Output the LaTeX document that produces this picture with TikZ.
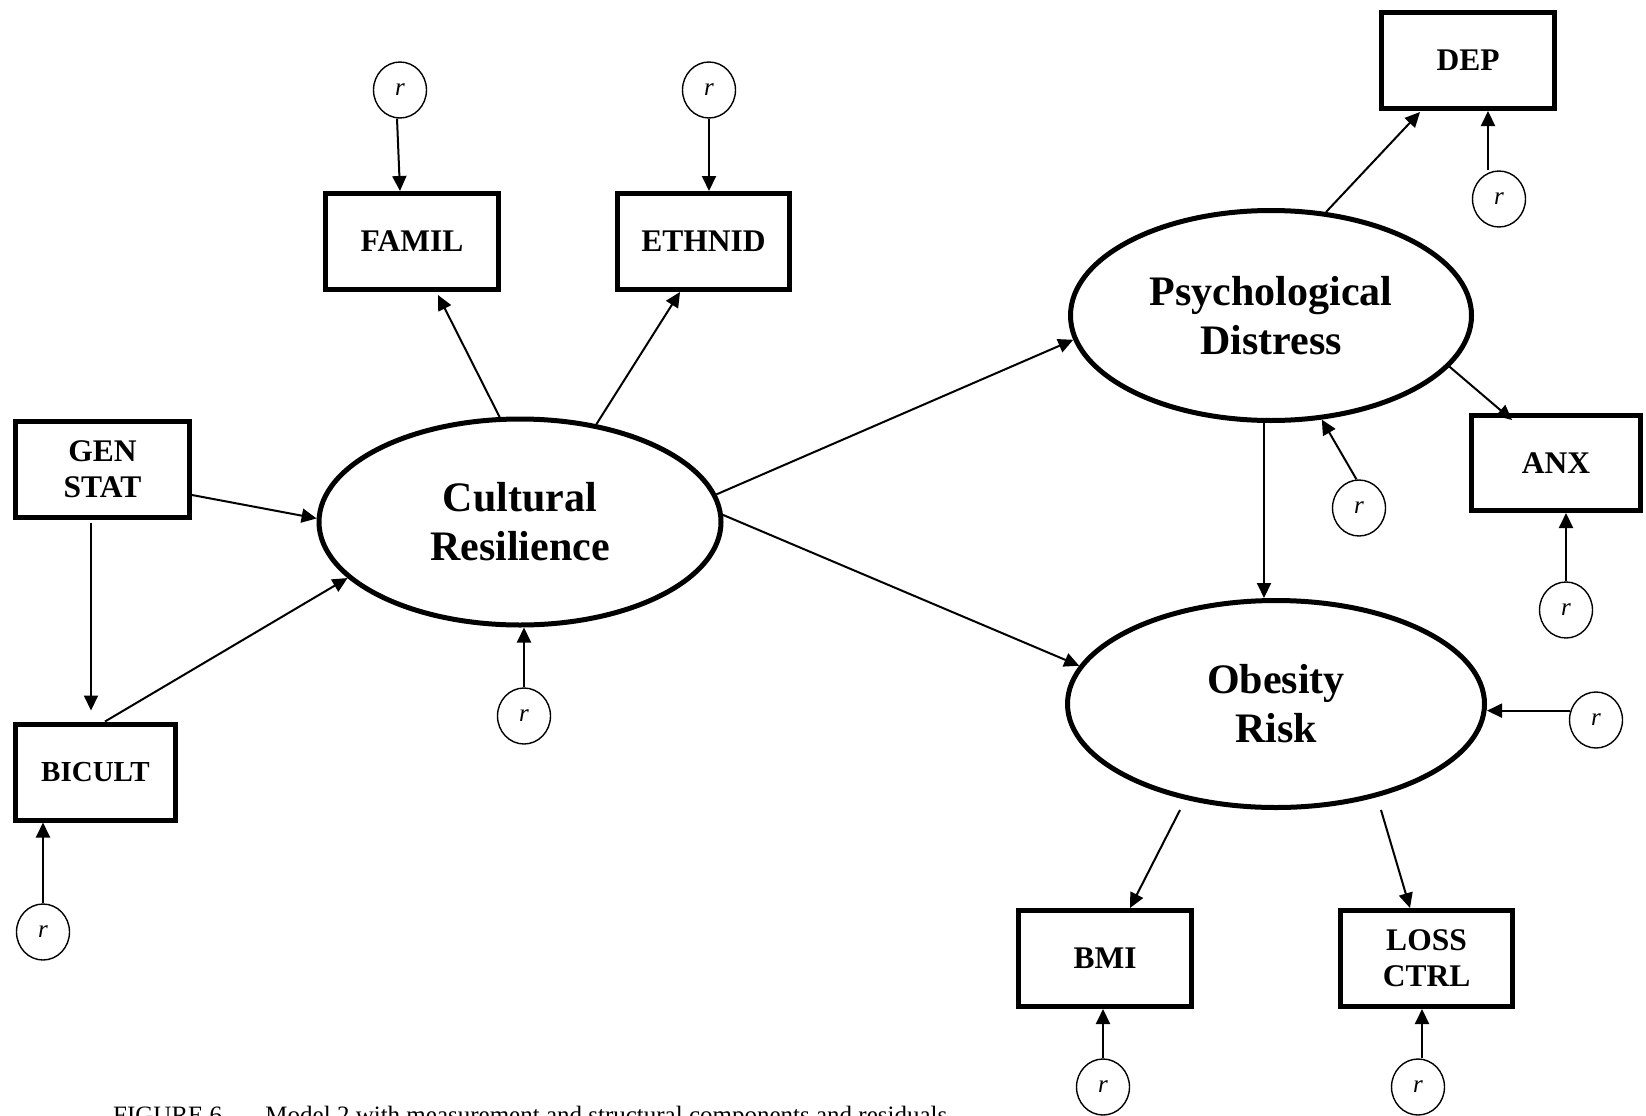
\documentclass[tikz,border=0pt]{standalone}
\usepackage{fontspec}
\setmainfont{Liberation Serif}
\usetikzlibrary{shapes.geometric,arrows.meta}
\begin{document}
\begin{tikzpicture}[x=1pt,y=-1pt,
  obs/.style={draw,rectangle,line width=5pt,inner sep=0pt,align=center,
    minimum width=173pt,minimum height=96pt,
    font=\bfseries\fontsize{31.5}{36}\selectfont},
  lat/.style={draw,ellipse,line width=5pt,inner sep=0pt,align=center,
    font=\bfseries\fontsize{42}{49}\selectfont},
  res/.style={draw,ellipse,line width=1.4pt,inner sep=0pt,
    minimum width=53pt,minimum height=56pt,
    font=\itshape\fontsize{25}{25}\selectfont},
  arr/.style={line width=2pt,-{Triangle[length=15pt,width=14pt]}},
]
\fill[white] (0,0) rectangle (1646,1116);
\useasboundingbox (0,0) rectangle (1646,1116);

% observed indicators
\node[obs,minimum width=174pt] (gen) at (102.5,469) {GEN\\STAT};
\node[obs,minimum width=160pt,font=\bfseries\fontsize{29}{34}\selectfont] (bic) at (95.5,772) {BICULT};
\node[obs] (famil) at (412,241.5) {FAMIL};
\node[obs,minimum width=172pt] (ethnid) at (703.5,241.5) {ETHNID};
\node[obs] (dep) at (1468,60.5) {DEP};
\node[obs,minimum width=169pt,minimum height=95pt] (anx) at (1556,463) {ANX};
\node[obs] (bmi) at (1105,958.5) {BMI};
\node[obs,minimum width=172pt] (loss) at (1426.5,958.5) {LOSS\\CTRL};

% latent constructs
\node[lat,minimum width=402pt,minimum height=206pt] (cr) at (520,522) {Cultural\\Resilience};
\node[lat,minimum width=401pt,minimum height=210pt] (pd) at (1271,315.5) {Psychological\\Distress};
\node[lat,minimum width=417pt,minimum height=207pt] (or) at (1276,704) {Obesity\\Risk};

% residual terms
\node[res] (rfam) at (400,90) {r};
\node[res] (reth) at (709,90) {r};
\node[res] (rcr) at (524,716) {r};
\node[res] (rbic) at (43,932) {r};
\node[res] (rdep) at (1499,199) {r};
\node[res] (rpd) at (1359,508) {r};
\node[res] (ranx) at (1566,610) {r};
\node[res] (ror) at (1596,720) {r};
\node[res] (rbmi) at (1103,1087) {r};
\node[res] (rloss) at (1418,1087) {r};

% caption
\node[anchor=base west,inner sep=0pt,font=\fontsize{25}{30}\selectfont] (cap) at (113,1123)
  {FIGURE 6.\hspace{37pt}Model 2 with measurement and structural components and residuals};

% paths among exogenous indicators and cultural resilience
\draw[arr] ([xshift=-11.5pt,yshift=-3pt]gen.south) -- ([xshift=-11.5pt,yshift=11pt]gen.south |- bic.north);
\draw[arr] ([yshift=-26pt]gen.east) -- (cr.179);
\draw[arr] ([xshift=9.5pt]bic.north) -- (cr.198);
\draw[arr] (cr.101) -- ([xshift=26pt,yshift=-3pt]famil.south);
\draw[arr] (cr.52.5) -- ([xshift=-23.5pt]ethnid.south);

% structural paths
\draw[arr] (cr.8) -- (pd.187);
\draw[arr] (cr.2) -- (or.169);
\draw[arr] ([xshift=-7pt,yshift=5pt]pd.south) -- ([xshift=-7pt]pd.south |- or.north);

% measurement paths of the outcomes
\draw[arr] (pd.62) -- ([xshift=-48pt,yshift=-1pt]dep.south);
\draw[arr] (pd.-16) -- ([xshift=-44pt,yshift=-7pt]anx.north);
\draw[arr] ([xshift=-96pt]or.south) -- ([xshift=25pt]bmi.north);
\draw[arr] ([xshift=105pt]or.south) -- ([xshift=-16.5pt]loss.north);

% residual arrows
\draw[arr] (rfam.-96) -- ([xshift=-12pt]famil.north);
\draw[arr] (reth.south) -- (reth.south |- ethnid.north);
\draw[arr] (rcr.north) -- (rcr.north |- cr.south);
\draw[arr] (rbic.north) -- (rbic.north |- bic.south);
\draw[arr] ([xshift=-11pt]rdep.north) -- ([xshift=-11pt]rdep.north |- dep.south);
\draw[arr] (rpd.95) -- (pd.-64);
\draw[arr] (ranx.north) -- (ranx.north |- anx.south);
\draw[arr] (ror.160) -- (ror.160 -| or.east);
\draw[arr] (rbmi.north) -- (rbmi.north |- bmi.south);
\draw[arr] ([xshift=4pt]rloss.north) -- ([xshift=4pt]rloss.north |- loss.south);
\end{tikzpicture}
\end{document}
